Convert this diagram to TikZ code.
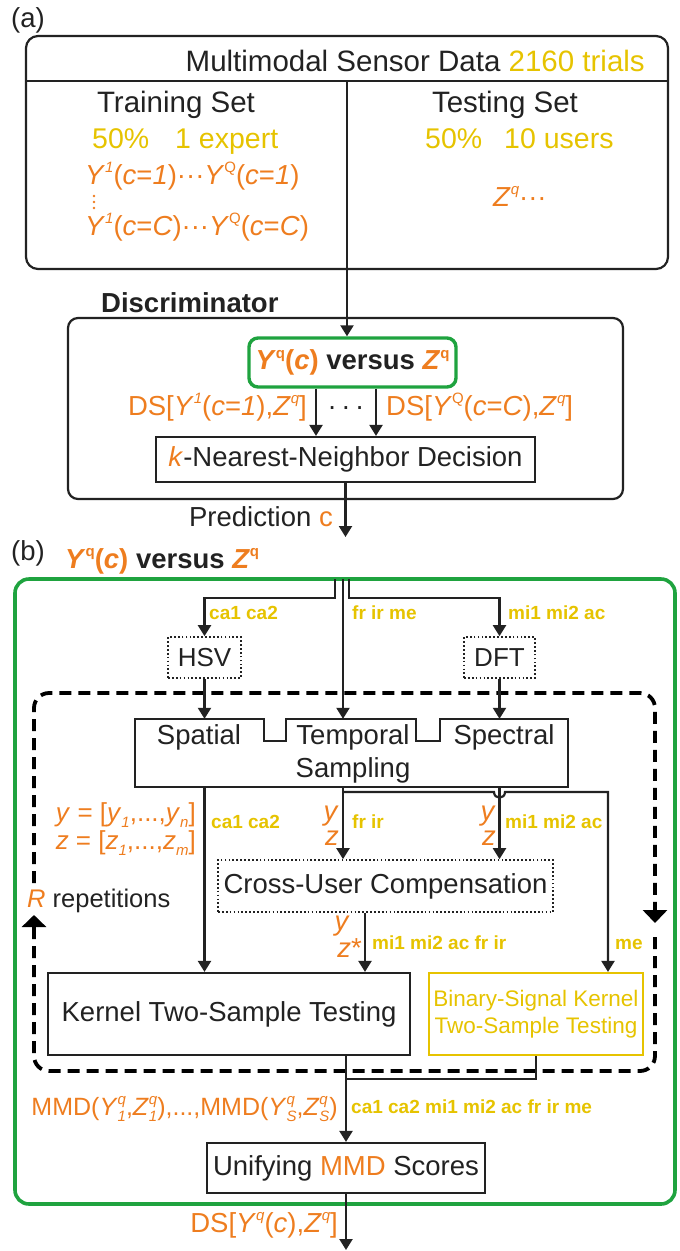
\documentclass[tikz,border=0pt]{standalone}
\usepackage{fontspec}
\setmainfont{Liberation Sans}
\usetikzlibrary{arrows.meta}
\definecolor{myorange}{HTML}{EE7D1F}
\definecolor{myyellow}{HTML}{E6C300}
\definecolor{mygreen}{HTML}{1FA33F}
\definecolor{linec}{HTML}{222222}
\newcommand{\fm}{\fontsize{27.5}{31}\selectfont}
\newcommand{\fh}{\fontsize{29.5}{34}\selectfont}
\newcommand{\fy}{\fontsize{19}{22}\selectfont\bfseries}
\newcommand{\ora}[1]{\textcolor{myorange}{#1}}
\newcommand{\yel}[1]{\textcolor{myyellow}{#1}}
\newcommand{\up}[1]{\raisebox{0.42em}{\fontsize{15}{15}\selectfont #1}}
\newcommand{\dn}[1]{\raisebox{-0.26em}{\fontsize{15}{15}\selectfont #1}}
\newcommand{\ud}[2]{\makebox[0pt][l]{\up{#1}}\dn{#2}}
\tikzset{
  every node/.style={font=\fm, inner sep=0pt, text=linec},
  ln/.style={line width=2.2pt, draw=linec},
  arr/.style={ln, -{Triangle[width=13pt,length=11pt]}},
  sbox/.style={draw=linec, line width=2.2pt},
  dotbox/.style={draw=linec, line width=1.7pt, dash pattern=on 1.7pt off 2.2pt},
  dsh/.style={draw=black, line width=3.8pt, dash pattern=on 12pt off 7pt, rounded corners=15pt},
  bigtip/.style={-{Triangle[width=24pt,length=13pt]}},
  ylab/.style={font=\fy, text=myyellow, anchor=base west},
}
\begin{document}
\begin{tikzpicture}[x=1pt, y=-1pt]
\useasboundingbox (0,0) rectangle (680,1251);

% ---------------- (a) ----------------
\node[anchor=base west] (la) at (11,27) {(a)};
\node[sbox, rounded corners=12pt, minimum width=642pt, minimum height=233pt] (data) at (347,152.5) {};
\draw[ln] (26,81) -- (668,81);
\draw[ln] (347,81) -- (data.south);
\node[anchor=base east, font=\fh] (hdr) at (645,71) {Multimodal Sensor Data \yel{2160 trials}};
\node[anchor=base, font=\fh] (train) at (176,112) {Training Set};
\node[anchor=base, font=\fh] (test) at (505,112) {Testing Set};
\node[anchor=base west, font=\fontsize{28.5}{32}\selectfont] (tr50) at (92,148) {\yel{50\%\hspace{26pt}1 expert}};
\node[anchor=base west, font=\fontsize{28.5}{32}\selectfont] (te50) at (425,148) {\yel{50\%\hspace{22pt}10 users}};
\node[anchor=base west] (ytr1) at (85,184) {\ora{\textit{Y}\up{\textit{1}}(\textit{c}=\textit{1})···\textit{Y}\up{Q}(\textit{c}=\textit{1})}};
\foreach \yy in {196,202,208} \fill[myorange] (94,\yy) circle[radius=1.4pt];
\node[anchor=base west] (ytrC) at (85,235) {\ora{\textit{Y}\up{\textit{1}}(\textit{c}=\textit{C})···\textit{Y}\up{Q}(\textit{c}=\textit{C})}};
\node[anchor=base west] (zte) at (493,206) {\ora{\textit{Z}\up{\textit{q}}···}};

% ---------------- Discriminator ----------------
\node[anchor=base west, font=\fm\bfseries] (dlab) at (101,312) {Discriminator};
\node[sbox, rounded corners=10pt, minimum width=555pt, minimum height=181pt] (disc) at (345.5,408.5) {};
\node[draw=mygreen, line width=3.4pt, rounded corners=9pt, minimum width=207pt, minimum height=49pt, font=\fm\bfseries] (vs1) at (352.5,362.5) {\ora{\textit{Y}\up{q}(\textit{c})} versus \ora{\textit{Z}\up{q}}};
\draw[arr] (data.south) -- (data.south |- vs1.north);
\node[sbox, minimum width=379pt, minimum height=45pt] (knn) at (345.5,459.5) {\ora{\textit{k}}-Nearest-Neighbor Decision};
\draw[arr] ([xshift=-36.5pt]vs1.south) -- ([xshift=-36.5pt]vs1.south |- knn.north);
\draw[arr] ([xshift=23.5pt]vs1.south) -- ([xshift=23.5pt]vs1.south |- knn.north);
\node[anchor=base east] (ds1) at (307,415) {\ora{DS[\textit{Y}\up{\textit{1}}(\textit{c}=\textit{1}),\textit{Z}\up{\textit{q}}]}};
\node[anchor=base] (dots1) at (346,415) {·\,·\,·};
\node[anchor=base west] (dsQ) at (386,415) {\ora{DS[\textit{Y}\up{Q}(\textit{c}=\textit{C}),\textit{Z}\up{\textit{q}}]}};
\coordinate (predend) at (347,537);
\draw[arr] (knn.south) -- (knn.south |- predend);
\node[anchor=base east] (pred) at (333,526) {Prediction \ora{c}};

% ---------------- (b) ----------------
\node[anchor=base west] (lb) at (11,560) {(b)};
\node[anchor=base west, font=\fm\bfseries] (vs2) at (65,568) {\ora{\textit{Y}\up{q}(\textit{c})} versus \ora{\textit{Z}\up{q}}};
\node[draw=mygreen, line width=3.6pt, rounded corners=14pt, minimum width=660pt, minimum height=625pt] (gbox) at (345,891.5) {};

% dashed repetition loop
\draw[dsh, bigtip] (34,883) -- (34,693) -- (655,693) -- (655,923);
\draw[dsh, -{Triangle[width=24pt,length=12pt]}] (655,937) -- (655,1071) -- (34,1071) -- (34,915);
\node[anchor=base west, font=\fontsize{25.5}{30}\selectfont] (rep) at (27,907) {\ora{\textit{R}} repetitions};

% preprocessing
\node[dotbox, minimum width=73pt, minimum height=41pt, font=\fontsize{26}{30}\selectfont] (hsv) at (204.5,657.5) {HSV};
\node[dotbox, minimum width=71pt, minimum height=41pt, font=\fontsize{26}{30}\selectfont] (dft) at (499.5,657.5) {DFT};
\coordinate (gl) at (335,579);
\coordinate (gm) at (343,579);
\coordinate (gr) at (349,579);
\coordinate (jl) at (335,598);
\coordinate (jr) at (349,598);
\node[ylab] (l1) at (209,619) {ca1 ca2};
\node[ylab] (l2) at (352,619) {fr ir me};
\node[ylab] (l3) at (508,619) {mi1 mi2 ac};

% sampling box
\node[minimum width=433pt, minimum height=68pt] (samp) at (351.5,753) {};
\draw[ln] (135,719) -- (264,719) -- (264,741) -- (286,741) -- (286,719) -- (416,719) -- (416,741) -- (440,741) -- (440,719) -- (568,719) -- (568,787) -- (135,787) -- cycle;
\node[anchor=base] (tspat) at (199,744) {Spatial};
\node[anchor=base] (ttemp) at (353,744) {Temporal};
\node[anchor=base] (tspec) at (504,744) {Spectral};
\node[anchor=base] (tsamp) at (353,777) {Sampling};

\draw[arr] (gl) -- (jl) -| (hsv.north);
\draw[arr] (gr) -- (jr) -| (dft.north);
\draw[arr] (gm) -- (gm |- samp.north);
\draw[arr] (hsv.south) -- (hsv.south |- samp.north);
\draw[arr] (dft.south) -- (dft.south |- samp.north);

% compensation and testing
\node[dotbox, minimum width=335pt, minimum height=52pt] (cuc) at (385.5,886) {Cross-User Compensation};
\node[sbox, minimum width=362pt, minimum height=82pt] (kern) at (229,1014) {Kernel Two-Sample Testing};
\node[draw=myyellow, line width=2.2pt, minimum width=214pt, minimum height=82pt, text=myyellow, align=center, font=\fontsize{22.5}{27}\selectfont] (bin) at (536,1014) {Binary-Signal Kernel\\Two-Sample Testing};
\node[sbox, minimum width=278pt, minimum height=50pt] (uni) at (346,1168) {Unifying \ora{MMD} Scores};

\draw[arr] (hsv.south |- samp.south) -- (hsv.south |- kern.north);
\draw[arr] (gm |- samp.south) -- (gm |- cuc.north);
\draw[arr] (dft.south |- samp.south) -- (dft.south |- cuc.north);
\coordinate (hs) at (343,792);
\draw[arr] (hs) -- (494,792) .. controls (494,799.5) and (505,799.5) .. (505,792) -| ([xshift=72pt]bin.north);
\draw[arr] ([xshift=-20.5pt]cuc.south) -- ([xshift=-20.5pt]cuc.south |- kern.north);
\coordinate (mj) at (346,1079);
\draw[arr] (kern.south -| uni.north) -- (uni.north);
\draw[ln] (bin.south) |- (mj);
\coordinate (outb) at (346,1250);
\draw[arr] (uni.south) -- (outb);

% labels
\node[anchor=base east, font=\fontsize{26}{30}\selectfont] (yv) at (196,821) {\ora{\textit{y} = [\textit{y}\dn{\textit{1}},...,\textit{y}\dn{\textit{n}}]}};
\node[anchor=base east, font=\fontsize{26}{30}\selectfont] (zv) at (196,849) {\ora{\textit{z} = [\textit{z}\dn{\textit{1}},...,\textit{z}\dn{\textit{m}}]}};
\node[ylab] (l4) at (211,828) {ca1 ca2};
\node[anchor=base east] (y2) at (339,820) {\ora{\textit{y}}};
\node[anchor=base east] (z2) at (339,845) {\ora{\textit{z}}};
\node[ylab] (l5) at (352,828) {fr ir};
\node[anchor=base east] (y3) at (496,820) {\ora{\textit{y}}};
\node[anchor=base east] (z3) at (496,845) {\ora{\textit{z}}};
\node[ylab] (l6) at (505,828) {mi1 mi2 ac};
\node[anchor=base east] (y4) at (350,930) {\ora{\textit{y}}};
\node[anchor=base east] (z4) at (362,957) {\ora{\textit{z}*}};
\node[ylab] (l7) at (372,949) {mi1 mi2 ac fr ir};
\node[ylab] (l8) at (615,949) {me};
\node[anchor=base east, font=\fontsize{25}{30}\selectfont] (mmd) at (338,1115) {\ora{MMD(\textit{Y}\ud{\textit{q}}{\textit{1}},\textit{Z}\ud{\textit{q}}{\textit{1}}),...,MMD(\textit{Y}\ud{\textit{q}}{\textit{S}},\textit{Z}\ud{\textit{q}}{\textit{S}})}};
\node[ylab] (l9) at (351,1113) {ca1 ca2 mi1 mi2 ac fr ir me};
\node[anchor=base east] (dsout) at (338,1232) {\ora{DS[\textit{Y}\up{\textit{q}}(\textit{c}),\textit{Z}\up{\textit{q}}]}};
\end{tikzpicture}
\end{document}
